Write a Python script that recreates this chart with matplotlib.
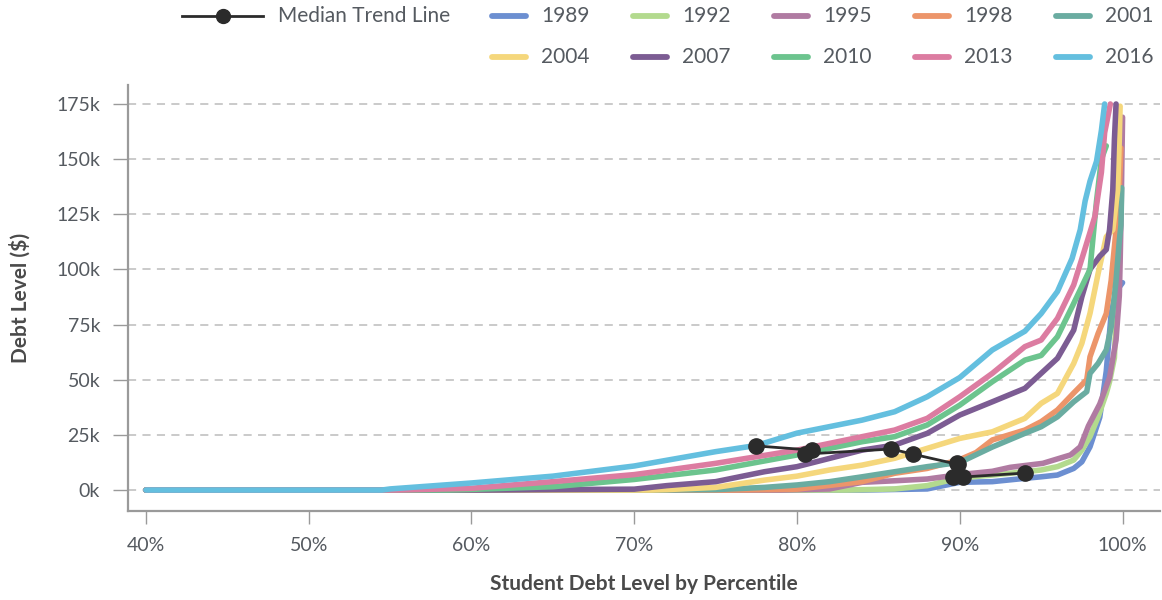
import matplotlib
matplotlib.use("Agg")
import matplotlib.pyplot as plt
from matplotlib.lines import Line2D
from matplotlib.ticker import FuncFormatter, FixedLocator

plt.rcParams['font.family'] = ['Lato', 'DejaVu Sans']

# ---------------- data ----------------
years = [1989, 1992, 1995, 1998, 2001, 2004, 2007, 2010, 2013, 2016]
colors = ['#6c8fd1', '#b3da8e', '#b07ba2', '#ec956a', '#6aaca1',
          '#f5d77c', '#7c5c93', '#6cc48e', '#dc7ca1', '#64bfdf']

pct_1989 = [40, 84, 88, 90, 92, 94, 95, 96, 97, 97.5, 98, 98.6, 99.0, 99.3, 99.6, 100]
debt_1989 = [0, 0, 0.5, 3.5, 3.8, 5.3, 6.0, 6.8, 9.8, 12.8, 19.6, 33, 54, 80, 90, 94]

pct_1992 = [40, 83, 86, 88, 90, 92, 94, 95, 96, 97, 97.5, 98, 98.5, 99.0, 99.2, 99.5, 99.7, 99.8]
debt_1992 = [0, 0, 0.5, 2.0, 5.5, 6.8, 8.3, 9.1, 10.6, 13.6, 18.1, 24.2, 33.2, 43.8, 49.1, 60, 100, 122]

pct_1995 = [40, 79, 82, 84, 86, 88, 90, 92, 93.1, 95.1, 96.8, 97.4, 97.9, 98.6, 99.2, 99.6, 99.8, 99.85, 99.9, 99.95, 100]
debt_1995 = [0, 0, 0.5, 3.5, 4.2, 5.0, 7.0, 8.5, 10.3, 12.1, 15.9, 19.6, 29, 39, 51, 68, 88, 103, 121, 145, 169]

pct_1998 = [40, 76, 80, 84, 86, 88, 90, 91, 92, 94, 95, 96, 97, 97.8, 98.0, 98.5, 99.0, 99.3, 99.6, 99.8, 99.9]
debt_1998 = [0, 0, 0.4, 3.8, 7.6, 9.8, 13.8, 17, 22.7, 27.2, 31, 36.3, 44, 50, 60.4, 71, 80, 95, 118, 136, 155]

pct_2001 = [40, 71.5, 75, 78, 80, 82, 84, 86, 88, 90, 92, 94, 95, 96, 97, 97.8, 98.0, 98.5, 99.0, 99.3, 99.6, 99.8, 99.9, 99.95]
debt_2001 = [0, 0, 0.2, 1.2, 2.3, 3.8, 6.0, 8.3, 10.6, 12.5, 19.5, 25.7, 28.7, 33.2, 40, 44.6, 52.9, 57.4, 63.5, 74, 95, 113, 120, 137]

pct_2004 = [40, 71, 72, 75, 78, 80, 82, 84, 86, 88, 90, 92, 94, 95, 96, 97, 97.5, 98, 98.5, 99.0, 99.4, 99.7, 99.8, 99.85]
debt_2004 = [0, 0, 0.2, 1.2, 4.5, 6.3, 9.1, 11.3, 14.4, 18.9, 23.4, 26.4, 32.5, 39.3, 43.8, 57.4, 66.5, 80.1, 98.2, 114.8, 118, 136, 159, 174]

pct_2007 = [40, 61, 65, 70, 72, 75, 78, 80, 84, 86, 88, 90, 92, 94, 95, 96, 97, 97.5, 98, 98.6, 99.0, 99.2, 99.4, 99.5, 99.6]
debt_2007 = [0, 0, 0.2, 0.4, 2.0, 3.8, 8.3, 10.6, 18.1, 20.4, 25.7, 34, 40, 46.1, 52.9, 59.7, 72.5, 87.6, 100, 106, 109, 118, 136, 159, 175]

pct_2010 = [40, 58.5, 60, 65, 70, 75, 80, 84, 86, 88, 90, 92, 94, 95, 96, 97, 98, 98.4, 98.7, 99.0]
debt_2010 = [0, 0, 0.3, 1.5, 4.8, 9.1, 15.9, 21.9, 24.2, 29.5, 38.5, 49.1, 58.9, 61, 69.5, 84.6, 100, 131, 150, 156]

pct_2013 = [40, 55.5, 60, 65, 70, 72, 75, 80, 84, 86, 88, 90, 92, 94, 95, 96, 97, 97.55, 98.3, 98.7, 98.9, 99.25]
debt_2013 = [0, 0, 0.8, 3.8, 7.0, 9.0, 12.1, 18.1, 24.2, 27.2, 32.5, 42.3, 52.9, 65, 68, 77.8, 93, 106, 124, 144, 162, 175]

pct_2016 = [40, 54.5, 55, 60, 65, 70, 72, 75, 77.5, 80, 84, 86, 88, 90, 92, 94, 95, 96, 96.9, 97.4, 97.7, 98.0, 98.4, 98.7, 98.9]
debt_2016 = [0, 0, 0.5, 3.2, 6.3, 10.9, 13.5, 17.4, 20.2, 25.8, 31.7, 35.5, 42.3, 51, 63.5, 72, 80, 90, 105, 118, 131, 140, 149, 163, 175]

median_pct = [94.0, 90.2, 89.6, 89.8, 89.9, 87.1, 85.8, 80.5, 80.9, 77.5]
median_debt = [7.7, 5.9, 5.9, 12.2, 11.6, 16.3, 18.6, 16.3, 18.1, 20.0]

x_ticks = [40, 50, 60, 70, 80, 90, 100]
y_ticks = [0, 25, 50, 75, 100, 125, 150, 175]

series = [(pct_1989, debt_1989), (pct_1992, debt_1992), (pct_1995, debt_1995),
          (pct_1998, debt_1998), (pct_2001, debt_2001), (pct_2004, debt_2004),
          (pct_2007, debt_2007), (pct_2010, debt_2010), (pct_2013, debt_2013),
          (pct_2016, debt_2016)]

# ---------------- figure ----------------
W, H = 1162, 600
fig = plt.figure(figsize=(W / 100, H / 100), dpi=100)
ax = fig.add_axes([128 / W, 1 - 511 / H, (1160 - 128) / W, (511 - 85) / H])

for y in y_ticks:
    ax.axhline(y, color='#c6c6c6', lw=1.3, linestyle=(0, (4.5, 3.5)), zorder=0)

for (px, dy), c in zip(series, colors):
    ax.plot(px, dy, color=c, lw=4.0, solid_joinstyle='round', solid_capstyle='round', zorder=2)

ax.plot(median_pct, median_debt, color='#2b2b2b', lw=2.0, marker='o', markersize=11, zorder=5)

ax.set_xlim(38.9, 102.3)
ax.set_ylim(-9.5, 183.6)
ax.xaxis.set_major_locator(FixedLocator(x_ticks))
ax.yaxis.set_major_locator(FixedLocator(y_ticks))
ax.xaxis.set_major_formatter(FuncFormatter(lambda v, p: f"{v:.0f}%"))
ax.yaxis.set_major_formatter(FuncFormatter(lambda v, p: f"{v:.0f}k"))

for s in ['top', 'right']:
    ax.spines[s].set_visible(False)
for s in ['left', 'bottom']:
    ax.spines[s].set_color('#9a9a9a')
    ax.spines[s].set_linewidth(1.6)
ax.tick_params(axis='x', length=9, width=1, color='#9a9a9a', labelsize=14, labelcolor='#555a60', pad=10)
ax.tick_params(axis='y', length=11, width=1, color='#9a9a9a', labelsize=14, labelcolor='#555a60', pad=9)

ax.set_xlabel('Student Debt Level by Percentile', fontsize=15, fontweight='bold', color='#4a4a4a')
ax.xaxis.set_label_coords(0.5, (511 - 584) / (511 - 85))
ax.set_ylabel('Debt Level ($)', fontsize=15, fontweight='bold', color='#4a4a4a')
ax.yaxis.set_label_coords((20 - 128) / (1160 - 128), 0.5)
ax.xaxis.label.set_va('center')
ax.yaxis.label.set_va('center')

# ---------------- legend (manual, figure pixel layout) ----------------
def fx(p):
    return p / W

def fy(p):
    return 1 - p / H

fig.add_artist(Line2D([fx(182), fx(263)], [fy(16), fy(16)], color='#2b2b2b', lw=2.0,
                      transform=fig.transFigure))
fig.add_artist(Line2D([fx(223)], [fy(16)], color='#2b2b2b', marker='o', markersize=10,
                      transform=fig.transFigure))
fig.text(fx(278), fy(16), 'Median Trend Line', fontsize=15, color='#555a60', va='center', ha='left')

col_x = [490, 631, 772, 913, 1054]
row_y = [16, 57]
for i, (yr, c) in enumerate(zip(years, colors)):
    r, k = divmod(i, 5)
    x0 = col_x[k]
    y0 = row_y[r]
    fig.add_artist(Line2D([fx(x0 + 2), fx(x0 + 36)], [fy(y0), fy(y0)], color=c, lw=4.2,
                          solid_capstyle='round', transform=fig.transFigure))
    fig.text(fx(x0 + 51), fy(y0), str(yr), fontsize=15, color='#555a60', va='center', ha='left')

fig.savefig('out.png', dpi=100)
